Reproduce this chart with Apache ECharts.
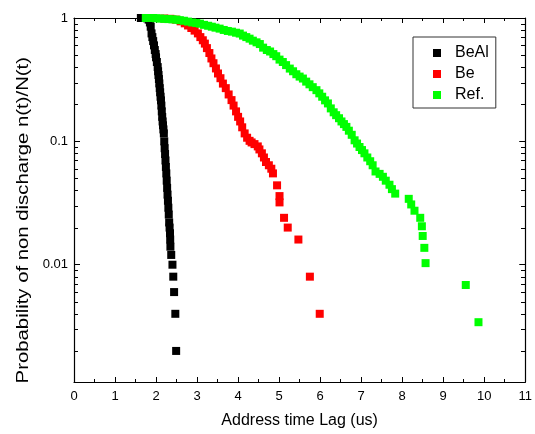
<!DOCTYPE html>
<html>
<head>
<meta charset="utf-8">
<script src="https://cdn.jsdelivr.net/npm/echarts@6/dist/echarts.min.js"></script>
<style>html,body{margin:0;padding:0;background:#fff;}#c{width:535px;height:434px;}</style>
</head>
<body>
<div id="c"></div>
<script>
// ---- data ----
const seriesNames = ['BeAl', 'Be', 'Ref.'];
const xTicks = [0,1,2,3,4,5,6,7,8,9,10,11];
const yTickLabels = ['0.01', '0.1', '1'];
const xTitle = 'Address time Lag (us)';
const yTitle = 'Probability of non discharge n(t)/N(t)';

const beAl = [
  [1.63,1],[1.68,1],[1.73,1],[1.78,0.995],[1.82,0.97],[1.85,0.92],[1.87,0.85],[1.89,0.75],
  [1.91,0.70],[1.93,0.65],[1.95,0.60],[1.97,0.55],[1.99,0.51],[2.00,0.48],[2.02,0.44],
  [2.04,0.40],[2.05,0.37],[2.06,0.345],[2.07,0.32],[2.08,0.295],[2.09,0.27],[2.10,0.25],
  [2.11,0.23],[2.12,0.215],[2.13,0.195],[2.14,0.175],[2.15,0.158],[2.16,0.145],[2.17,0.135],
  [2.18,0.125],[2.19,0.116],[2.20,0.10],[2.21,0.088],[2.22,0.079],[2.23,0.07],[2.24,0.062],
  [2.25,0.055],[2.26,0.048],[2.27,0.042],[2.28,0.037],[2.29,0.033],[2.30,0.029],[2.31,0.0255],
  [2.32,0.022],[2.33,0.02],[2.34,0.018],[2.345,0.016],[2.35,0.014],[2.37,0.012],
  [2.40,0.010],[2.42,0.008],[2.44,0.006],[2.47,0.004],[2.49,0.002]
];

const be = [
  [2.20,0.99],[2.35,0.985],[2.48,0.97],[2.60,0.94],[2.70,0.905],[2.78,0.87],[2.86,0.83],
  [2.94,0.79],[3.02,0.75],[3.08,0.70],[3.14,0.66],[3.19,0.62],[3.24,0.57],[3.30,0.52],
  [3.35,0.47],[3.40,0.43],[3.46,0.39],[3.51,0.355],[3.57,0.325],[3.63,0.294],[3.70,0.27],
  [3.77,0.24],[3.84,0.216],[3.89,0.195],[3.95,0.175],[4.00,0.158],[4.05,0.145],[4.10,0.13],
  [4.16,0.116],[4.22,0.107],[4.28,0.101],[4.33,0.098],[4.40,0.095],[4.48,0.091],[4.52,0.086],
  [4.58,0.080],[4.63,0.074],[4.68,0.068],[4.75,0.064],[4.81,0.060],[4.85,0.055],[4.95,0.044],
  [5.01,0.036],[5.01,0.032],[5.12,0.024],[5.21,0.020],[5.47,0.016],[5.75,0.008],[5.99,0.004]
];

const ref = [
  [1.75,1],[1.85,1],[1.93,1],[2.00,0.995],[2.10,0.99],[2.20,0.985],[2.30,0.98],[2.40,0.975],
  [2.50,0.97],[2.58,0.96],[2.68,0.95],[2.78,0.935],[2.88,0.92],[2.98,0.91],[3.07,0.90],
  [3.17,0.88],[3.27,0.865],[3.36,0.85],[3.45,0.835],[3.55,0.82],[3.65,0.80],[3.75,0.785],
  [3.85,0.775],[3.95,0.76],[4.04,0.748],[4.12,0.72],[4.20,0.70],[4.28,0.68],[4.36,0.655],
  [4.45,0.635],[4.53,0.615],[4.61,0.575],[4.70,0.55],[4.78,0.535],[4.86,0.51],[4.93,0.49],
  [5.01,0.46],[5.09,0.44],[5.17,0.415],[5.26,0.389],[5.34,0.37],[5.42,0.35],[5.50,0.335],
  [5.58,0.323],[5.66,0.305],[5.74,0.29],[5.82,0.275],[5.91,0.26],[5.98,0.245],[6.05,0.23],
  [6.12,0.215],[6.19,0.203],[6.26,0.185],[6.33,0.172],[6.39,0.163],[6.46,0.154],[6.52,0.145],
  [6.58,0.138],[6.64,0.131],[6.70,0.122],[6.77,0.113],[6.84,0.102],[6.90,0.096],[6.96,0.09],
  [7.02,0.085],[7.08,0.080],[7.15,0.074],[7.22,0.069],[7.28,0.064],[7.35,0.057],[7.45,0.0545],
  [7.53,0.0516],[7.60,0.048],[7.69,0.0445],[7.75,0.041],[7.83,0.0377],[8.16,0.0342],
  [8.22,0.0308],[8.30,0.0274],[8.44,0.024],[8.48,0.0205],[8.50,0.0171],[8.54,0.0137],
  [8.57,0.0103],[9.55,0.00685],[9.86,0.00342]
];

const colors = ['#000000', '#ff0000', '#00ff00'];
const xMin = 0, xMax = 11;
const yMin = 0.00112, yMax = 1;

// minor tick values for the log axis (2..9 within each decade)
const minorVals = [];
[0.001, 0.01, 0.1].forEach(function (d) {
  for (let m = 2; m <= 9; m++) {
    const v = +(d * m).toPrecision(3);
    if (v >= yMin && v <= yMax) minorVals.push(v);
  }
});

const FONT = 'Liberation Sans, Arial, sans-serif';
const chart = echarts.init(document.getElementById('c'), null, { renderer: 'canvas' });

const xBase = {
  type: 'value', min: xMin, max: xMax, interval: 1,
  axisLine: { show: true, onZero: false, lineStyle: { color: '#000', width: 1.2 } },
  axisTick: { show: true, inside: true, length: 5, lineStyle: { color: '#000' } },
  minorTick: { show: true, splitNumber: 2, length: 3, lineStyle: { color: '#000' } },
  splitLine: { show: false }
};
const yBase = {
  type: 'log', logBase: 10, min: yMin, max: yMax,
  axisLine: { show: true, onZero: false, lineStyle: { color: '#000', width: 1.2 } },
  axisTick: { show: true, inside: true, length: 6, lineStyle: { color: '#000' } },
  splitLine: { show: false }
};

const scatterStyle = function (i) {
  return { color: colors[i], opacity: 1, borderWidth: 0 };
};

chart.setOption({
  animation: false,
  backgroundColor: '#fff',
  grid: { left: 74, right: 9, top: 18, bottom: 51, containLabel: false },
  legend: {
    data: seriesNames.map(function (n, i) { return { name: n, icon: 'rect', itemStyle: { color: colors[i], opacity: 1 } }; }),
    orient: 'vertical', left: 413, top: 37,
    itemWidth: 8, itemHeight: 8, itemGap: 5,
    padding: [8, 7, 5, 20],
    borderColor: '#333', borderWidth: 1,
    textStyle: { fontFamily: FONT, fontSize: 16, color: '#000', lineHeight: 16, padding: [0, 0, 0, 9] }
  },
  xAxis: [
    Object.assign({}, xBase, {
      position: 'bottom',
      name: xTitle, nameLocation: 'middle', nameGap: 31,
      nameTextStyle: { fontFamily: FONT, fontSize: 16, color: '#000' },
      axisLabel: { fontFamily: FONT, fontSize: 13, color: '#000', margin: 8,
        formatter: function (v) { return xTicks.indexOf(v) >= 0 ? String(v) : ''; } }
    }),
    Object.assign({}, xBase, { position: 'top', axisLabel: { show: false } })
  ],
  yAxis: [
    Object.assign({}, yBase, {
      position: 'left',
      axisLabel: { fontFamily: FONT, fontSize: 13, color: '#000', margin: 6, showMinLabel: false,
        formatter: function (v) {
          const s = String(+v.toPrecision(3));
          return yTickLabels.indexOf(s) >= 0 ? s : '';
        } }
    }),
    Object.assign({}, yBase, { position: 'right', axisLabel: { show: false } })
  ],
  series: [
    { name: seriesNames[0], type: 'scatter', data: beAl, symbol: 'rect', symbolSize: 8,
      itemStyle: scatterStyle(0), xAxisIndex: 0, yAxisIndex: 0, z: 2 },
    { name: seriesNames[1], type: 'scatter', data: be, symbol: 'rect', symbolSize: 8,
      itemStyle: scatterStyle(1), xAxisIndex: 0, yAxisIndex: 0, z: 3 },
    { name: seriesNames[2], type: 'scatter', data: ref, symbol: 'rect', symbolSize: 8,
      itemStyle: scatterStyle(2), xAxisIndex: 0, yAxisIndex: 0, z: 4 }
  ]
});

// minor log ticks (2..9 per decade), placed through the chart's own coordinate conversion
const gfx = [];
minorVals.forEach(function (v) {
  const l = chart.convertToPixel({ xAxisIndex: 0, yAxisIndex: 0 }, [xMin, v]);
  const r = chart.convertToPixel({ xAxisIndex: 0, yAxisIndex: 0 }, [xMax, v]);
  const yy = Math.round(l[1]) + 0.5;
  gfx.push({ type: 'rect', z: 100, silent: true,
    shape: { x: Math.round(l[0]), y: Math.round(l[1]), width: 4, height: 1 }, style: { fill: '#000' } });
  gfx.push({ type: 'rect', z: 100, silent: true,
    shape: { x: Math.round(r[0]) - 4, y: Math.round(r[1]), width: 4, height: 1 }, style: { fill: '#000' } });
});
gfx.push({
  type: 'text', left: 16, top: 57, rotation: Math.PI / 2, scaleX: 1.27,
  style: { text: yTitle, fontFamily: FONT, fontSize: 16, fill: '#000' }
});
chart.setOption({ graphic: gfx });
</script>
</body>
</html>
